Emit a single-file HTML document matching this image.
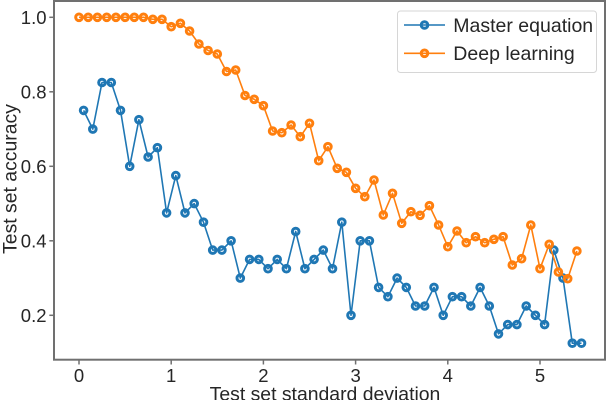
<!DOCTYPE html>
<html><head><meta charset="utf-8"><style>
html,body{margin:0;padding:0;background:#fff;}
svg{display:block;}
text{font-family:"Liberation Sans",Arial,sans-serif;fill:#262626;}
</style></head><body>
<svg width="608" height="400" viewBox="0 0 608 400" xmlns="http://www.w3.org/2000/svg">
<rect x="0" y="0" width="608" height="400" fill="#fff"/>
<!-- ticks -->
<g stroke="#707070" stroke-width="1.5">
<line x1="79" y1="360" x2="79" y2="364.5"/>
<line x1="171.2" y1="360" x2="171.2" y2="364.5"/>
<line x1="263.4" y1="360" x2="263.4" y2="364.5"/>
<line x1="355.6" y1="360" x2="355.6" y2="364.5"/>
<line x1="447.8" y1="360" x2="447.8" y2="364.5"/>
<line x1="540" y1="360" x2="540" y2="364.5"/>
<line x1="49.3" y1="17.3" x2="54" y2="17.3"/>
<line x1="49.3" y1="91.8" x2="54" y2="91.8"/>
<line x1="49.3" y1="166.3" x2="54" y2="166.3"/>
<line x1="49.3" y1="240.8" x2="54" y2="240.8"/>
<line x1="49.3" y1="315.3" x2="54" y2="315.3"/>
</g>
<g font-size="18.5" text-anchor="end">
<text x="46.5" y="24">1.0</text>
<text x="46.5" y="98.5">0.8</text>
<text x="46.5" y="173">0.6</text>
<text x="46.5" y="247.5">0.4</text>
<text x="46.5" y="322">0.2</text>
</g>
<g font-size="18.5" text-anchor="middle">
<text x="79" y="382">0</text>
<text x="171.2" y="382">1</text>
<text x="263.4" y="382">2</text>
<text x="355.6" y="382">3</text>
<text x="447.8" y="382">4</text>
<text x="540" y="382">5</text>
</g>
<text x="325" y="400.5" font-size="19.4" text-anchor="middle">Test set standard deviation</text>
<text transform="translate(16.5,179) rotate(-90)" font-size="19.4" text-anchor="middle">Test set accuracy</text>

<!-- Master equation (blue) -->
<polyline fill="none" stroke="#1f77b4" stroke-width="1.6" stroke-linejoin="round" points="83.6,110.4 92.8,129.1 102.0,82.5 111.3,82.5 120.5,110.4 129.7,166.3 138.9,119.7 148.1,157.0 157.4,147.7 166.6,212.9 175.8,175.6 185.0,212.9 194.2,203.6 203.5,222.2 212.7,250.1 221.9,250.1 231.1,240.8 240.3,278.1 249.6,259.4 258.8,259.4 268.0,268.7 277.2,259.4 286.4,268.7 295.7,231.5 304.9,268.7 314.1,259.4 323.3,250.1 332.5,268.7 341.8,222.2 351.0,315.3 360.2,240.8 369.4,240.8 378.6,287.4 387.9,296.7 397.1,278.1 406.3,287.4 415.5,306.0 424.7,306.0 434.0,287.4 443.2,315.3 452.4,296.7 461.6,296.7 470.8,306.0 480.1,287.4 489.3,306.0 498.5,333.9 507.7,324.6 516.9,324.6 526.2,306.0 535.4,315.3 544.6,324.6 553.8,250.1 563.0,278.1 572.3,343.2 581.5,343.2"/>
<g fill="none" stroke="#1f77b4" stroke-width="3">
<circle cx="83.6" cy="110.4" r="3.3"/><circle cx="92.8" cy="129.1" r="3.3"/><circle cx="102.0" cy="82.5" r="3.3"/><circle cx="111.3" cy="82.5" r="3.3"/><circle cx="120.5" cy="110.4" r="3.3"/><circle cx="129.7" cy="166.3" r="3.3"/><circle cx="138.9" cy="119.7" r="3.3"/><circle cx="148.1" cy="157.0" r="3.3"/><circle cx="157.4" cy="147.7" r="3.3"/><circle cx="166.6" cy="212.9" r="3.3"/><circle cx="175.8" cy="175.6" r="3.3"/><circle cx="185.0" cy="212.9" r="3.3"/><circle cx="194.2" cy="203.6" r="3.3"/><circle cx="203.5" cy="222.2" r="3.3"/><circle cx="212.7" cy="250.1" r="3.3"/><circle cx="221.9" cy="250.1" r="3.3"/><circle cx="231.1" cy="240.8" r="3.3"/><circle cx="240.3" cy="278.1" r="3.3"/><circle cx="249.6" cy="259.4" r="3.3"/><circle cx="258.8" cy="259.4" r="3.3"/><circle cx="268.0" cy="268.7" r="3.3"/><circle cx="277.2" cy="259.4" r="3.3"/><circle cx="286.4" cy="268.7" r="3.3"/><circle cx="295.7" cy="231.5" r="3.3"/><circle cx="304.9" cy="268.7" r="3.3"/><circle cx="314.1" cy="259.4" r="3.3"/><circle cx="323.3" cy="250.1" r="3.3"/><circle cx="332.5" cy="268.7" r="3.3"/><circle cx="341.8" cy="222.2" r="3.3"/><circle cx="351.0" cy="315.3" r="3.3"/><circle cx="360.2" cy="240.8" r="3.3"/><circle cx="369.4" cy="240.8" r="3.3"/><circle cx="378.6" cy="287.4" r="3.3"/><circle cx="387.9" cy="296.7" r="3.3"/><circle cx="397.1" cy="278.1" r="3.3"/><circle cx="406.3" cy="287.4" r="3.3"/><circle cx="415.5" cy="306.0" r="3.3"/><circle cx="424.7" cy="306.0" r="3.3"/><circle cx="434.0" cy="287.4" r="3.3"/><circle cx="443.2" cy="315.3" r="3.3"/><circle cx="452.4" cy="296.7" r="3.3"/><circle cx="461.6" cy="296.7" r="3.3"/><circle cx="470.8" cy="306.0" r="3.3"/><circle cx="480.1" cy="287.4" r="3.3"/><circle cx="489.3" cy="306.0" r="3.3"/><circle cx="498.5" cy="333.9" r="3.3"/><circle cx="507.7" cy="324.6" r="3.3"/><circle cx="516.9" cy="324.6" r="3.3"/><circle cx="526.2" cy="306.0" r="3.3"/><circle cx="535.4" cy="315.3" r="3.3"/><circle cx="544.6" cy="324.6" r="3.3"/><circle cx="553.8" cy="250.1" r="3.3"/><circle cx="563.0" cy="278.1" r="3.3"/><circle cx="572.3" cy="343.2" r="3.3"/><circle cx="581.5" cy="343.2" r="3.3"/>
</g>

<!-- Deep learning (orange) -->
<polyline fill="none" stroke="#ff7f0e" stroke-width="1.6" stroke-linejoin="round" points="79.0,17.3 88.2,17.3 97.4,17.3 106.7,17.3 115.9,17.3 125.1,17.3 134.3,17.3 143.5,17.3 152.8,19.3 162.0,19.3 171.2,26.7 180.4,23.3 189.6,31 198.9,44 208.1,50.5 217.3,54 226.5,71.5 235.7,70 245.0,95.5 254.2,99.3 263.4,105.7 272.6,131 281.8,132.7 291.1,125 300.3,136.7 309.5,123.3 318.7,160.7 327.9,146.7 337.2,168.3 346.4,172.3 355.6,188.3 364.8,196.7 374.0,180 383.3,215 392.5,193.3 401.7,223.3 410.9,211.7 420.1,215.3 429.4,205.7 438.6,225 447.8,246.7 457.0,231 466.2,242.7 475.5,236.7 484.7,242.7 493.9,239.3 503.1,236.7 512.3,265 521.6,258.7 530.8,225 540.0,268.7 549.2,244.3 558.4,272 567.7,278.7 576.9,251"/>
<g fill="none" stroke="#ff7f0e" stroke-width="3">
<circle cx="79.0" cy="17.3" r="3.3"/><circle cx="88.2" cy="17.3" r="3.3"/><circle cx="97.4" cy="17.3" r="3.3"/><circle cx="106.7" cy="17.3" r="3.3"/><circle cx="115.9" cy="17.3" r="3.3"/><circle cx="125.1" cy="17.3" r="3.3"/><circle cx="134.3" cy="17.3" r="3.3"/><circle cx="143.5" cy="17.3" r="3.3"/><circle cx="152.8" cy="19.3" r="3.3"/><circle cx="162.0" cy="19.3" r="3.3"/><circle cx="171.2" cy="26.7" r="3.3"/><circle cx="180.4" cy="23.3" r="3.3"/><circle cx="189.6" cy="31" r="3.3"/><circle cx="198.9" cy="44" r="3.3"/><circle cx="208.1" cy="50.5" r="3.3"/><circle cx="217.3" cy="54" r="3.3"/><circle cx="226.5" cy="71.5" r="3.3"/><circle cx="235.7" cy="70" r="3.3"/><circle cx="245.0" cy="95.5" r="3.3"/><circle cx="254.2" cy="99.3" r="3.3"/><circle cx="263.4" cy="105.7" r="3.3"/><circle cx="272.6" cy="131" r="3.3"/><circle cx="281.8" cy="132.7" r="3.3"/><circle cx="291.1" cy="125" r="3.3"/><circle cx="300.3" cy="136.7" r="3.3"/><circle cx="309.5" cy="123.3" r="3.3"/><circle cx="318.7" cy="160.7" r="3.3"/><circle cx="327.9" cy="146.7" r="3.3"/><circle cx="337.2" cy="168.3" r="3.3"/><circle cx="346.4" cy="172.3" r="3.3"/><circle cx="355.6" cy="188.3" r="3.3"/><circle cx="364.8" cy="196.7" r="3.3"/><circle cx="374.0" cy="180" r="3.3"/><circle cx="383.3" cy="215" r="3.3"/><circle cx="392.5" cy="193.3" r="3.3"/><circle cx="401.7" cy="223.3" r="3.3"/><circle cx="410.9" cy="211.7" r="3.3"/><circle cx="420.1" cy="215.3" r="3.3"/><circle cx="429.4" cy="205.7" r="3.3"/><circle cx="438.6" cy="225" r="3.3"/><circle cx="447.8" cy="246.7" r="3.3"/><circle cx="457.0" cy="231" r="3.3"/><circle cx="466.2" cy="242.7" r="3.3"/><circle cx="475.5" cy="236.7" r="3.3"/><circle cx="484.7" cy="242.7" r="3.3"/><circle cx="493.9" cy="239.3" r="3.3"/><circle cx="503.1" cy="236.7" r="3.3"/><circle cx="512.3" cy="265" r="3.3"/><circle cx="521.6" cy="258.7" r="3.3"/><circle cx="530.8" cy="225" r="3.3"/><circle cx="540.0" cy="268.7" r="3.3"/><circle cx="549.2" cy="244.3" r="3.3"/><circle cx="558.4" cy="272" r="3.3"/><circle cx="567.7" cy="278.7" r="3.3"/><circle cx="576.9" cy="251" r="3.3"/>
</g>

<!-- spines -->
<rect x="54" y="1" width="551" height="358.7" fill="none" stroke="#707070" stroke-width="2"/>

<!-- legend -->
<rect x="397.5" y="11" width="199" height="61.5" rx="3" ry="3" fill="#fff" fill-opacity="0.85" stroke="#d6d6d6" stroke-width="1"/>
<line x1="404" y1="25" x2="445" y2="25" stroke="#1f77b4" stroke-width="1.6"/>
<circle cx="424.5" cy="25" r="3.3" fill="none" stroke="#1f77b4" stroke-width="3"/>
<line x1="404" y1="53.3" x2="445" y2="53.3" stroke="#ff7f0e" stroke-width="1.6"/>
<circle cx="424.5" cy="53.3" r="3.3" fill="none" stroke="#ff7f0e" stroke-width="3"/>
<text x="453.3" y="31.8" font-size="19.5">Master equation</text>
<text x="453.3" y="60.2" font-size="19.5">Deep learning</text>
</svg>
</body></html>
